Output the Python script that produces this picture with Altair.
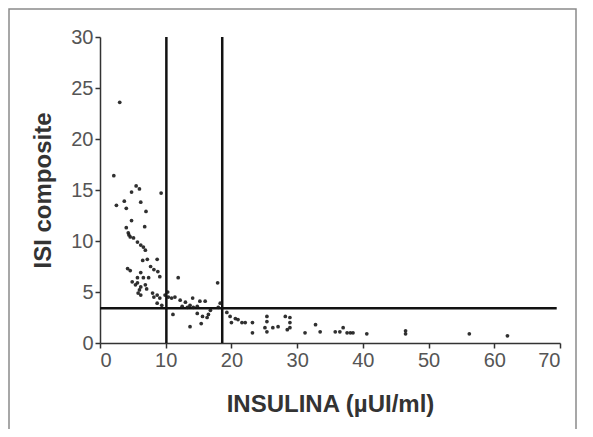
import altair as alt
import pandas as pd

# data
insulina = [3.0, 2.1, 5.5, 6.0, 4.8, 9.3, 2.5, 3.7, 4.0, 6.2, 7.0, 4.8, 6.8, 4.0, 4.3, 4.6, 5.1, 4.4,
            5.7, 6.2, 6.6, 6.9, 6.5, 7.2, 8.7, 7.7, 8.2, 8.8, 4.2, 4.6, 6.2, 5.7, 6.6, 7.4, 9.1, 5.4,
            6.2, 6.9, 5.7, 6.2, 8.0, 8.7, 8.2, 9.1, 9.9, 10.3, 8.7, 9.4, 10.4, 10.9, 11.4, 11.9, 11.1,
            12.2, 13.0, 12.5, 13.3, 13.7, 14.2, 14.8, 14.1, 15.2, 16.0, 13.7, 14.8, 15.6, 16.3, 16.5,
            15.4, 16.8, 17.9, 18.3, 18.0, 19.3, 19.8, 20.6, 20.0, 21.0, 21.6, 22.1, 23.2, 23.2, 25.4,
            25.4, 25.1, 25.4, 26.3, 27.1, 28.2, 28.9, 28.9, 28.9, 28.5, 31.2, 32.8, 33.5, 35.8, 36.5,
            37.0, 37.6, 38.1, 38.5, 40.6, 46.5, 46.5, 56.2, 62.0, 4.9, 6.0, 7.1, 5.8]
isi = [23.6, 16.4, 15.4, 15.1, 14.8, 14.7, 13.5, 13.9, 13.2, 13.8, 12.9, 12.0, 11.4, 11.3, 10.8, 10.4,
       10.3, 10.6, 9.9, 9.6, 9.4, 9.1, 8.1, 8.2, 8.2, 7.5, 7.2, 7.0, 7.3, 7.1, 6.9, 6.4, 6.4, 6.4, 6.5,
       5.7, 5.5, 5.7, 5.9, 4.7, 4.9, 4.7, 4.5, 4.4, 4.7, 5.0, 3.9, 3.7, 4.5, 4.4, 4.5, 6.4, 2.8, 4.2,
       4.0, 3.6, 3.5, 3.7, 3.5, 3.6, 4.4, 4.1, 4.1, 1.6, 2.9, 2.6, 2.5, 2.8, 1.9, 3.2, 5.9, 3.9, 3.5,
       3.0, 2.6, 2.4, 2.0, 2.3, 2.0, 2.0, 2.0, 1.0, 2.6, 2.1, 1.5, 1.1, 1.5, 1.6, 2.6, 2.5, 2.0, 1.5,
       1.3, 1.0, 1.8, 1.1, 1.1, 1.1, 1.5, 1.0, 1.0, 1.0, 0.9, 1.2, 0.9, 0.9, 0.7, 6.0, 5.2, 5.3, 4.9]

cut_x = [10.1, 18.6]
cut_y = [3.4]
x_ticks = list(range(0, 75, 5))
y_ticks = list(range(0, 35, 5))

pts = pd.DataFrame({"x": insulina, "y": isi})
vlines = pd.DataFrame({"x": cut_x, "y": [0, 0], "y2": [30, 30]})
hlines = pd.DataFrame({"x": [0], "x2": [69.5], "y": cut_y})

FONT = "Liberation Sans"
LABEL_FONT = "Liberation Sans Narrow, Arial Narrow, Liberation Sans"
xs = alt.Scale(domain=[0, 70], nice=False)
ys = alt.Scale(domain=[0, 30], nice=False)

points = alt.Chart(pts).mark_circle(size=14, color="#1a1a1a", opacity=0.9).encode(
    x=alt.X("x:Q", scale=xs, axis=alt.Axis(values=x_ticks, title="INSULINA (\u00b5UI/ml)", titlePadding=22)),
    y=alt.Y("y:Q", scale=ys, axis=alt.Axis(values=y_ticks, title="ISI composite", titlePadding=15)),
)

vr = alt.Chart(vlines).mark_rule(color="#111", strokeWidth=2.5).encode(
    x=alt.X("x:Q", scale=xs), y=alt.Y("y:Q", scale=ys), y2="y2:Q"
)
hr = alt.Chart(hlines).mark_rule(color="#111", strokeWidth=2.5).encode(
    x=alt.X("x:Q", scale=xs), x2="x2:Q", y=alt.Y("y:Q", scale=ys)
)

frame = alt.Chart(pd.DataFrame({"a": [0]})).mark_rect(
    fill=None, stroke="#8a8a8a", strokeWidth=1.5
).encode(
    x=alt.value(-91), x2=alt.value(476), y=alt.value(-28), y2=alt.value(420)
)

chart = alt.layer(frame, vr, hr, points).properties(
    width=460, height=306,
    autosize=alt.AutoSizeParams(type="none"),
    padding={"left": 92, "top": 29, "right": 25, "bottom": 86},
).configure_view(stroke=None).configure_axis(
    grid=False,
    domainColor="#333", domainWidth=1.5,
    tickColor="#333", tickWidth=1.5, tickSize=5,
    labelColor="#555", labelFont=LABEL_FONT, labelFontSize=20,
    titleColor="#333", titleFont=FONT, titleFontSize=24, titleFontWeight="bold",
)

chart.save("out.html", embed_options={"renderer": "svg", "actions": False})
